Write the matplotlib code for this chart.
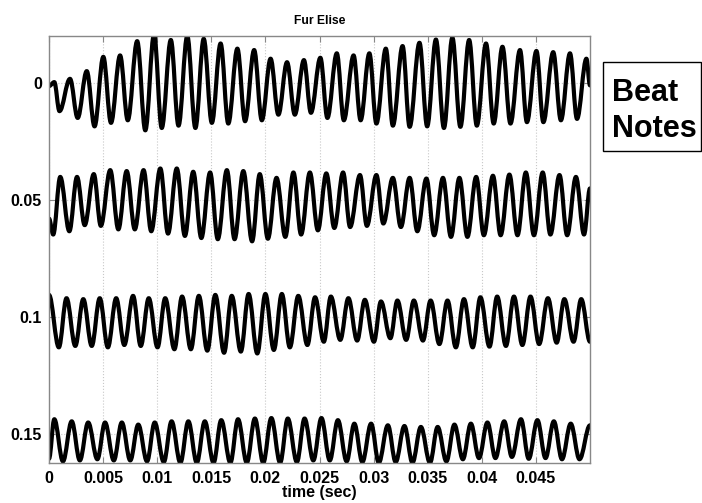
import matplotlib
matplotlib.use('Agg')
import matplotlib.pyplot as plt
from matplotlib.patches import Rectangle, PathPatch
from matplotlib.path import Path

plt.rcParams['font.family'] = ['Liberation Sans', 'DejaVu Sans']

# strip offsets (each strip holds 0.05 s of signal)
offsets = [0, 0.05, 0.1, 0.15]

# extrema: time in ms, displacement in units of 1e-3 (up = positive)
t1 = [0, 0.49, 0.97, 1.94, 2.65, 3.49, 4.21, 5.02, 5.73, 6.57, 7.28, 8.15, 8.90, 9.71, 10.42,
      11.26, 11.97, 12.78, 13.53, 14.30, 15.05, 15.86, 16.57, 17.41, 18.12, 18.96, 19.67, 20.48,
      21.20, 22.00, 22.72, 23.56, 24.21, 25.08, 25.73, 26.60, 27.25, 28.15, 28.80, 29.61, 30.26,
      31.13, 31.78, 32.68, 33.33, 34.24, 34.95, 35.76, 36.50, 37.28, 38.02, 38.83, 39.54, 40.39,
      41.10, 41.91, 42.65, 43.53, 44.17, 45.05, 45.69, 46.60, 47.31, 48.15, 48.80, 49.67, 50.0]
v1 = [-1.4, 0.3, -12.1, 1.7, -15.0, 5.0, -18.6, 11.1, -17.1, 11.7, -16.0, 17.8, -20.3, 20.7, -19.3,
      18.3, -18.3, 20.0, -19.3, 18.8, -17.1, 16.8, -17.4, 14.6, -16.4, 14.0, -16.0, 10.3,
      -13.6, 8.8, -13.6, 9.7, -12.8, 10.7, -15.0, 12.6, -16.0, 11.7, -16.0, 12.6, -17.4,
      14.6, -18.3, 15.7, -18.8, 17.1, -18.6, 18.5, -19.3, 19.3, -18.8, 18.3, -18.3, 16.8,
      -17.4, 15.4, -17.4, 14.0, -16.8, 13.6, -16.8, 13.1, -16.0, 12.6, -15.4, 10.3, -1.1]

t2 = [0, 0.39, 1.04, 1.88, 2.59, 3.30, 4.14, 4.79, 5.66, 6.41, 7.18, 7.93, 8.74, 9.45, 10.29,
      11.00, 11.81, 12.56, 13.33, 14.08, 14.89, 15.60, 16.44, 17.15, 17.96, 18.77, 19.48, 20.23,
      21.03, 21.84, 22.59, 23.30, 24.11, 24.85, 25.63, 26.37, 27.18, 27.83, 28.74, 29.38, 30.26,
      30.90, 31.78, 32.52, 33.33, 34.04, 34.88, 35.60, 36.41, 37.15, 37.93, 38.67, 39.48, 40.19,
      41.03, 41.74, 42.55, 43.30, 44.07, 44.82, 45.63, 46.34, 47.18, 47.89, 48.70, 49.45, 50.0]
v2 = [-8.0, -14.8, 9.8, -13.4, 9.8, -10.8, 11.0, -11.1, 12.7, -12.6, 12.3, -12.6, 12.7, -13.4, 13.4,
      -14.4, 13.4, -15.4, 12.0, -16.3, 11.7, -16.8, 12.7, -16.8, 12.3, -17.7, 11.0, -16.6,
      9.4, -15.8, 11.7, -14.8, 11.7, -13.0, 11.3, -12.0, 11.7, -11.6, 10.6, -11.1, 10.6,
      -10.1, 9.4, -11.6, 9.4, -13.4, 9.1, -15.1, 9.4, -15.8, 9.4, -15.8, 9.8, -15.1,
      10.3, -15.1, 10.8, -15.1, 11.7, -15.1, 11.7, -14.8, 10.6, -15.1, 9.8, -14.8, 4.9]

t3 = [0, 0.91, 1.62, 2.43, 3.17, 3.95, 4.69, 5.44, 6.21, 6.96, 7.77, 8.48, 9.22, 10.03, 10.74,
      11.59, 12.30, 13.11, 13.85, 14.63, 15.37, 16.18, 16.89, 17.73, 18.45, 19.25, 20.00, 20.78,
      21.52, 22.26, 23.04, 23.88, 24.59, 25.40, 26.05, 26.92, 27.67, 28.48, 29.19, 30.03, 30.68,
      31.55, 32.20, 33.01, 33.72, 34.56, 35.27, 36.08, 36.83, 37.60, 38.35, 39.16, 39.87, 40.71,
      41.42, 42.23, 42.97, 43.75, 44.50, 45.30, 46.11, 46.92, 47.63, 48.48, 49.19, 50.0]
v3 = [9.4, -13.0, 8.0, -12.4, 7.6, -12.4, 8.0, -13.0, 8.0, -12.0, 9.0, -12.4, 8.0, -13.0, 8.0,
      -13.8, 8.7, -13.8, 9.0, -14.4, 9.4, -15.3, 9.0, -14.8, 9.8, -15.6, 9.8, -14.1,
      9.8, -13.0, 9.0, -12.0, 8.4, -10.6, 8.7, -9.8, 8.0, -10.1, 7.3, -10.6, 6.6,
      -9.1, 7.0, -9.8, 7.0, -10.1, 7.0, -11.6, 7.0, -13.0, 7.6, -13.0, 8.4, -12.7,
      8.7, -12.4, 8.7, -12.0, 8.7, -11.6, 8.0, -11.0, 7.6, -10.6, 7.6, -10.6]

t4 = [0, 0.49, 1.29, 2.10, 2.85, 3.62, 4.47, 5.18, 5.99, 6.73, 7.51, 8.25, 9.06, 9.77, 10.61,
      11.33, 12.14, 12.88, 13.66, 14.40, 15.21, 15.92, 16.76, 17.47, 18.28, 19.03, 19.80, 20.55,
      21.36, 22.07, 22.91, 23.62, 24.43, 25.18, 25.95, 26.70, 27.51, 28.22, 28.96, 29.77, 30.48,
      31.32, 32.04, 32.85, 33.59, 34.37, 35.21, 35.92, 36.73, 37.47, 38.25, 38.99, 39.74, 40.52,
      41.26, 42.07, 42.78, 43.62, 44.34, 45.14, 45.89, 46.66, 47.41, 48.22, 49.03, 50.0]
v4 = [-10.6, 6.3, -11.7, 5.4, -11.3, 4.9, -10.8, 4.9, -11.3, 4.9, -11.3, 4.0, -11.7, 4.9, -12.0,
      5.4, -12.3, 5.4, -12.3, 5.4, -12.3, 5.9, -12.3, 6.3, -12.3, 6.6, -12.3, 6.8,
      -12.3, 6.6, -12.0, 6.6, -11.3, 6.8, -11.3, 5.9, -11.7, 4.4, -12.0, 4.4, -12.3,
      3.7, -12.0, 3.4, -12.3, 3.0, -12.3, 3.0, -11.7, 4.0, -10.8, 4.4, -10.3, 4.9,
      -10.3, 5.4, -9.8, 6.3, -10.6, 5.9, -10.3, 5.4, -10.8, 4.4, -10.8, 3.7]

strips = [(t1, v1), (t2, v2), (t3, v3), (t4, v4)]

xticks = [0, 0.005, 0.01, 0.015, 0.02, 0.025, 0.03, 0.035, 0.04, 0.045]
xticklabels = ['0', '0.005', '0.01', '0.015', '0.02', '0.025', '0.03', '0.035', '0.04', '0.045']
yticklabels = ['0', '0.05', '0.1', '0.15']


def wave_path(t, v, off):
    # smooth curve through the extrema: cubic segments with flat tangents at each extremum
    xs = [x / 1000 for x in t]
    ys = [off - y / 1000 for y in v]
    verts = [(xs[0], ys[0])]
    codes = [Path.MOVETO]
    for i in range(1, len(xs)):
        dx = xs[i] - xs[i - 1]
        verts += [(xs[i - 1] + 0.364 * dx, ys[i - 1]),
                  (xs[i] - 0.364 * dx, ys[i]),
                  (xs[i], ys[i])]
        codes += [Path.CURVE4] * 3
    return Path(verts, codes)


fig = plt.figure(figsize=(7.02, 5.03), dpi=100)
ax = fig.add_axes([49 / 702, 40 / 503, 541 / 702, 427 / 503])

for off, (t, v) in zip(offsets, strips):
    ax.add_patch(PathPatch(wave_path(t, v, off), facecolor='none', edgecolor='black',
                           lw=3.0, joinstyle='round', capstyle='round', zorder=3))

ax.set_xlim(0, 0.05)
ax.set_ylim(0.1624, -0.02)
ax.set_xticks(xticks)
ax.set_xticklabels(xticklabels)
ax.set_yticks(offsets)
ax.set_yticklabels(yticklabels)
ax.grid(True, color='#c8c8c8', linestyle=':', lw=0.8)
ax.tick_params(direction='in', length=4, width=0.8, color='#888888',
               top=True, right=True, labelsize=11.5)
ax.tick_params(axis='x', pad=6)
ax.tick_params(axis='y', pad=5)
for lab in ax.get_xticklabels() + ax.get_yticklabels():
    lab.set_fontweight('bold')
for s in ax.spines.values():
    s.set_color('#888888')
    s.set_linewidth(1.0)
    s.set_zorder(4)

ax.set_title('Fur Elise', fontsize=8.7, fontweight='bold', pad=9)
ax.set_xlabel('time (sec)', fontsize=11.5, fontweight='bold', labelpad=-1)

# "Beat Notes" box on the right
fig.patches.append(Rectangle((603 / 702, 352 / 503), 98 / 702, 89 / 503,
                             transform=fig.transFigure, fill=False,
                             edgecolor='black', lw=1.0))
fig.text(612 / 702, 392 / 503, 'Beat\nNotes', fontsize=22, fontweight='bold',
         ha='left', va='center', linespacing=1.3)

fig.savefig('out.png', dpi=100)
